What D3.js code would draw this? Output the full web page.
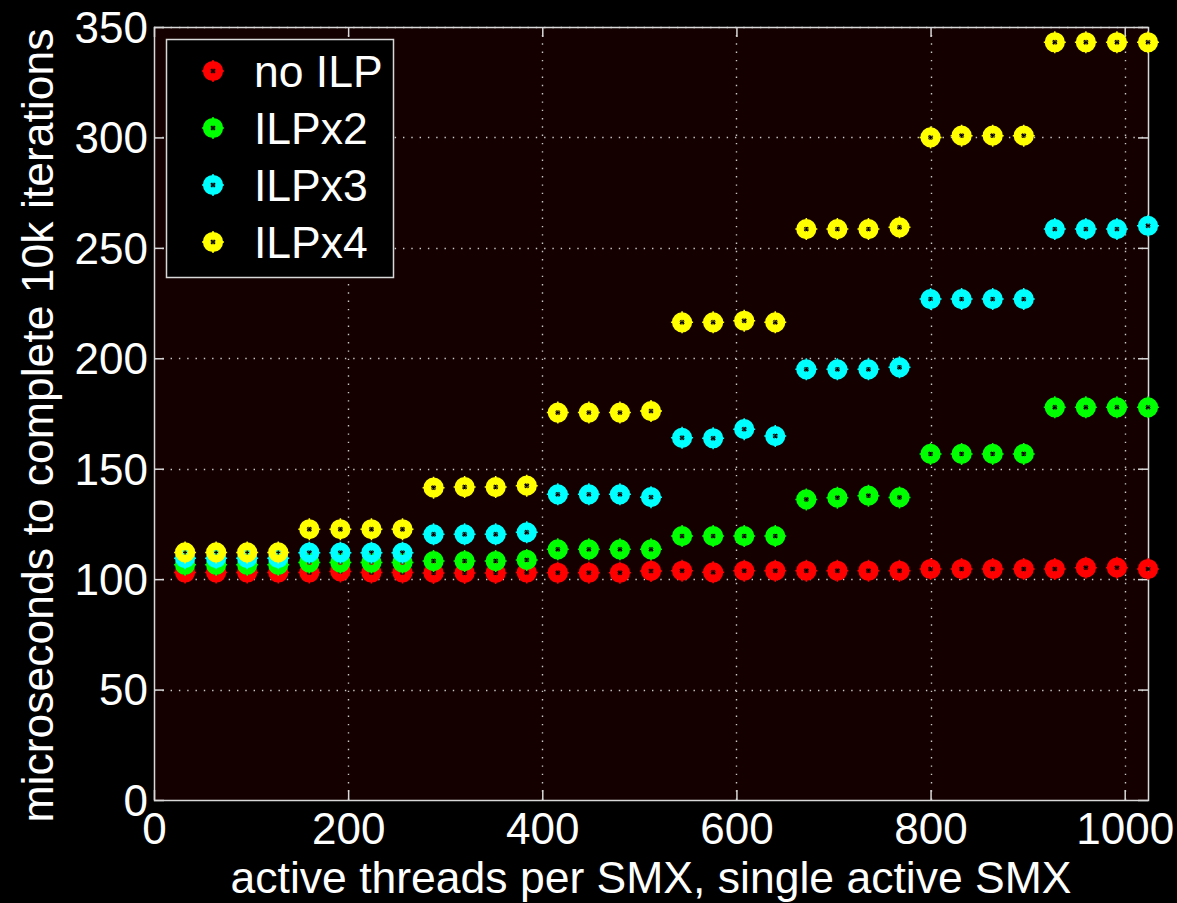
<!DOCTYPE html>
<html>
<head>
<meta charset="utf-8">
<script src="https://cdn.jsdelivr.net/npm/d3@7"></script>
<style>
  html, body { margin: 0; padding: 0; background: #000; }
  svg { display: block; }
  text { font-family: "Liberation Sans", Arial, Helvetica, sans-serif; fill: #fff; }
</style>
</head>
<body>
<svg id="chart" width="1177" height="903"></svg>
<script>
const threads = [32, 64, 96, 128, 160, 192, 224, 256, 288, 320, 352, 384, 416, 448, 480, 512,
                 544, 576, 608, 640, 672, 704, 736, 768, 800, 832, 864, 896, 928, 960, 992, 1024];

const noILP = [103, 103, 103, 103, 103, 103.5, 103, 103, 102.8, 102.8, 102.8, 103, 102.9, 102.9, 102.9, 103.7,
               103.8, 103.1, 103.8, 103.8, 103.8, 103.8, 103.8, 103.8, 104.6, 104.6, 104.6, 104.6, 104.6, 105.2, 105.2, 104.6];
const ilpX2 = [106.5, 106.5, 106.5, 106.5, 107.5, 107.5, 107.5, 107.5, 108.2, 108.2, 108.2, 108.7, 113.5, 113.5, 113.5, 113.5,
               119.5, 119.5, 119.5, 119.5, 136.1, 136.9, 137.8, 137.0, 156.7, 156.7, 156.7, 156.7, 177.8, 177.8, 177.8, 177.8];
const ilpX3 = [109.5, 109.5, 109.5, 109.5, 112, 112, 112, 112, 120.3, 120.3, 120.3, 121.2, 138.4, 138.4, 138.4, 137.1,
               164.0, 163.8, 167.9, 164.8, 195.0, 195.0, 195.0, 195.9, 226.8, 226.8, 226.8, 226.8, 258.5, 258.5, 258.5, 260];
const ilpX4 = [112.1, 112.1, 112.1, 112.1, 122.6, 122.6, 122.6, 122.6, 141.4, 141.7, 141.7, 142.3, 175.4, 175.4, 175.4, 176.1,
               216.3, 216.3, 217.0, 216.3, 258.5, 258.5, 258.5, 259.3, 300.0, 300.8, 300.8, 300.8, 343.1, 343.1, 343.1, 343.1];

const seriesNames = ["no ILP", "ILPx2", "ILPx3", "ILPx4"];
const seriesColors = ["#ff0000", "#00ff00", "#00ffff", "#ffff00"];
const seriesValues = [noILP, ilpX2, ilpX3, ilpX4];

const xTicks = [0, 200, 400, 600, 800, 1000];
const yTicks = [0, 50, 100, 150, 200, 250, 300, 350];
const xLabel = "active threads per SMX, single active SMX";
const yLabel = "microseconds to complete 10k iterations";

const svg = d3.select("#chart");
const W = 1177, H = 903;
const m = { left: 154, right: 1148, top: 27, bottom: 800 };

svg.append("rect").attr("width", W).attr("height", H).attr("fill", "#000");

const x = d3.scaleLinear().domain([0, 1024]).range([m.left, m.right]);
const y = d3.scaleLinear().domain([0, 350]).range([m.bottom, m.top]);

// plot background
svg.append("rect")
  .attr("x", m.left).attr("y", m.top)
  .attr("width", m.right - m.left).attr("height", m.bottom - m.top)
  .attr("fill", "#150000");

// grid
const grid = svg.append("g").attr("stroke", "#c8c8c8").attr("stroke-width", 1.4)
  .attr("stroke-dasharray", "1.4,6.9");
grid.selectAll("line.gx").data(xTicks.filter(t => t > 0)).enter().append("line")
  .attr("x1", d => Math.round(x(d)) + 0.5).attr("x2", d => Math.round(x(d)) + 0.5)
  .attr("y1", m.bottom).attr("y2", m.top);
grid.selectAll("line.gy").data(yTicks.filter(t => t > 0)).enter().append("line")
  .attr("y1", d => Math.round(y(d)) + 0.5).attr("y2", d => Math.round(y(d)) + 0.5)
  .attr("x1", m.left).attr("x2", m.right);

// axes with inward ticks
const tickLen = 10;
const axisColor = "#d8d8d8";
const fontSize = 44;
const fmt = d3.format("d");

const xAxisB = d3.axisBottom(x).tickValues(xTicks).tickFormat(fmt).tickSizeInner(-tickLen).tickSizeOuter(0).tickPadding(16);
const gxB = svg.append("g").attr("transform", `translate(0,${m.bottom})`).call(xAxisB);
const xAxisT = d3.axisTop(x).tickValues(xTicks).tickSizeInner(-tickLen).tickSizeOuter(0).tickFormat("");
const gxT = svg.append("g").attr("transform", `translate(0,${m.top})`).call(xAxisT);
const yAxisL = d3.axisLeft(y).tickValues(yTicks).tickFormat(fmt).tickSizeInner(-tickLen).tickSizeOuter(0).tickPadding(8);
const gyL = svg.append("g").attr("transform", `translate(${m.left},0)`).call(yAxisL);
const yAxisR = d3.axisRight(y).tickValues(yTicks).tickSizeInner(-tickLen).tickSizeOuter(0).tickFormat("");
const gyR = svg.append("g").attr("transform", `translate(${m.right},0)`).call(yAxisR);

[gxB, gxT, gyL, gyR].forEach(g => {
  g.select(".domain").remove();
  g.selectAll(".tick line").attr("stroke", axisColor).attr("stroke-width", 1.5);
  g.selectAll(".tick text").attr("fill", "#fff").attr("font-size", fontSize)
    .attr("font-family", "'Liberation Sans', Arial, sans-serif");
});
gxB.selectAll(".tick text").attr("dy", null).attr("y", 44);
gyL.selectAll(".tick text").attr("x", -6).attr("dy", "0.35em");

// frame
svg.append("rect")
  .attr("x", m.left + 0.5).attr("y", m.top + 0.5)
  .attr("width", m.right - m.left).attr("height", m.bottom - m.top)
  .attr("fill", "none").attr("stroke", axisColor).attr("stroke-width", 1.5);

// markers
function drawMarker(g, cx, cy, color) {
  const mk = g.append("g").attr("transform", `translate(${cx},${cy})`);
  mk.append("path").attr("d", "M-11,0H11M0,-11V11").attr("stroke", color).attr("stroke-width", 1.5);
  mk.append("circle").attr("r", 6.4).attr("fill", "none").attr("stroke", color).attr("stroke-width", 7.4);
  mk.append("path").attr("d", "M-2,0H2M0,-2V2").attr("stroke", "#000").attr("stroke-width", 1.3);
}

const pts = svg.append("g");
seriesValues.forEach((vals, si) => {
  const gS = pts.append("g");
  vals.forEach((v, i) => drawMarker(gS, x(threads[i]), y(v), seriesColors[si]));
});

// legend
const lg = svg.append("g");
lg.append("rect").attr("x", 166.5).attr("y", 39.5).attr("width", 227).attr("height", 238)
  .attr("fill", "#000").attr("stroke", axisColor).attr("stroke-width", 1.5);
const legY = d3.scalePoint().domain(seriesNames).range([71, 242]);
seriesNames.forEach((n, i) => {
  drawMarker(lg, 213, legY(n), seriesColors[i]);
  lg.append("text").attr("x", 254).attr("y", legY(n)).attr("dy", "0.36em")
    .attr("font-size", fontSize + 0.5).text(n);
});

// axis labels
svg.append("text").attr("x", (m.left + m.right) / 2).attr("y", 892.5)
  .attr("text-anchor", "middle").attr("font-size", fontSize + 0.5).text(xLabel);
svg.append("text").attr("transform", `translate(53,${(m.top + m.bottom) / 2 + 12}) rotate(-90)`)
  .attr("text-anchor", "middle").attr("font-size", fontSize + 0.5).text(yLabel);
</script>
</body>
</html>
